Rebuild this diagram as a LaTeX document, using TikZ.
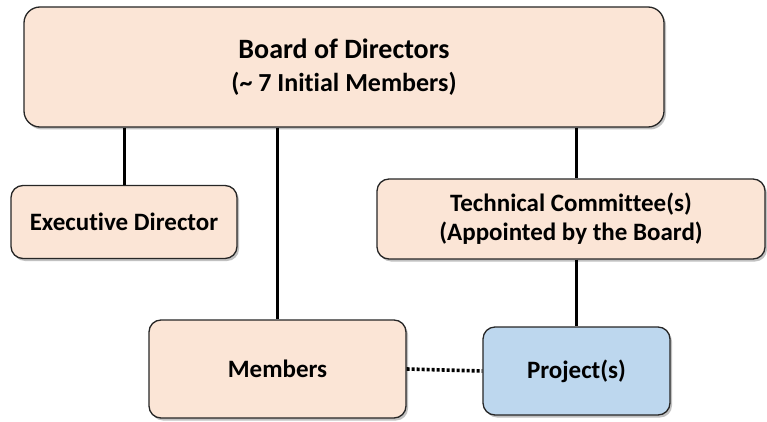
\documentclass[tikz,border=0pt]{standalone}
\usepackage{fontspec}
\setmainfont{Carlito}[Ligatures=NoCommon]
\usetikzlibrary{shadows}
\definecolor{peach}{HTML}{FBE5D6}
\definecolor{skyblue}{HTML}{BDD7EE}
\definecolor{edge}{HTML}{262626}
\begin{document}
\begin{tikzpicture}[x=1pt,y=-1pt,
  orgbox/.style={rectangle, rounded corners=12pt, draw=edge, line width=1.3pt,
    fill=peach, align=center, font=\bfseries\fontsize{25}{31}\selectfont,
    inner sep=0pt,
    drop shadow={shadow xshift=2pt, shadow yshift=-2.5pt, opacity=0.35, fill=black!70}},
  link/.style={line width=3pt, black},
  dotlink/.style={line width=3.6pt, black, dash pattern=on 3pt off 2pt}]
\useasboundingbox (0,0) rectangle (767,422);

\node[orgbox, rounded corners=16pt, minimum width=640pt, minimum height=120pt]
  (board) at (344,67)
  {{\fontsize{28}{34}\selectfont Board of Directors}\\[2pt]
   {\fontsize{26}{31}\selectfont (\textasciitilde\ 7 Initial Members)}};
\node[orgbox, minimum width=226pt, minimum height=73pt] (exec) at (124,222)
  {Executive Director};
\node[orgbox, minimum width=388pt, minimum height=80pt] (tc) at (571,219)
  {\raisebox{-2pt}{Technical Committee(s)}\\(Appointed by the Board)};
\node[orgbox, minimum width=257pt, minimum height=98pt] (members) at (277.5,369)
  {Members};
\node[orgbox, fill=skyblue, minimum width=187pt, minimum height=88pt] (proj) at (576.5,371)
  {Project(s)};

\draw[link] (board.south -| exec.north) -- (exec.north);
\draw[link] (board.south -| members.north) -- (members.north);
\draw[link] (board.south -| proj.north) -- (tc.north -| proj.north);
\draw[link] (tc.south -| proj.north) -- (proj.north);
\draw[dotlink] (members.east) -- (proj.west);
\end{tikzpicture}
\end{document}
